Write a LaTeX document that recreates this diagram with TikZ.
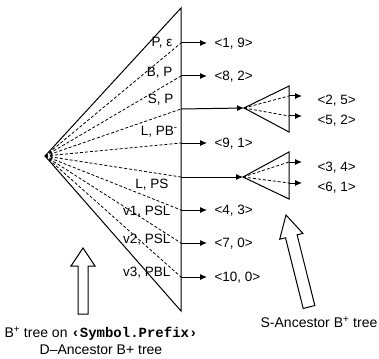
\documentclass[tikz,border=0pt]{standalone}
\usepackage{fontspec}
\setmainfont{Liberation Sans}
\setmonofont{Liberation Mono}
\usetikzlibrary{arrows.meta}
\tikzset{
  key/.style={anchor=east, inner sep=1pt},
  val/.style={anchor=west, inner sep=1pt},
  ptr/.style={-{Latex[length=7pt,width=6pt]}},
  edge/.style={dash pattern=on 3pt off 2pt, line width=0.8pt},
}
\begin{document}
\begin{tikzpicture}[x=1pt,y=-1pt,line width=1pt,font=\fontsize{13.5}{15}\selectfont]
  \useasboundingbox (0,0) rectangle (379,358);

  % D-Ancestor tree
  \coordinate (root) at (45,156);
  \coordinate (top) at (181,8);
  \coordinate (bot) at (181,311);
  \draw (root) -- (top) -- (bot) -- cycle;
  \draw (root) ++(-40:7) arc[start angle=-40,end angle=40,radius=7];

  \foreach \y [count=\i] in {43,76,109,143,177,210,243,277}
    \coordinate (r\i) at (181,\y);
  \foreach \i in {1,...,8}
    \draw[edge] (root) -- (r\i);

  \node[key] (k1) at (174,43) {P, ε};
  \node[key] (k2) at (174,73) {B, P};
  \node[key] (k3) at (175,100) {S, P};
  \node[key] (k4) at (179,132) {L, PB\textsuperscript{-}};
  \node[key] (k5) at (170,185) {L, PS};
  \node[key] (k6) at (172,212) {v1, PSL};
  \node[key] (k7) at (172,240) {v2, PSL};
  \node[key] (k8) at (172,273) {v3, PBL};

  \node[val] (v1) at (213,44) {<1, 9>};
  \node[val] (v2) at (213,77) {<8, 2>};
  \node[val] (v4) at (213,144) {<9, 1>};
  \node[val] (v6) at (213,211) {<4, 3>};
  \node[val] (v7) at (213,244) {<7, 0>};
  \node[val] (v8) at (213,278) {<10, 0>};
  \foreach \i in {1,2,4,6,7,8}
    \draw[ptr,shorten >=6pt] (r\i) -- (r\i -| v\i.west);

  % S-Ancestor trees
  \coordinate (s1) at (244,108);
  \coordinate (s1t) at (289,86);
  \coordinate (s1b) at (289,132);
  \draw (s1) -- (s1t) -- (s1b) -- cycle;
  \draw[ptr] (r3) -- (s1);
  \coordinate (s1a) at (289,96);
  \coordinate (s1c) at (289,116);
  \draw[edge] (s1) -- (s1a);
  \draw[edge] (s1) -- (s1c);
  \node[val] (w1) at (316,101) {<2, 5>};
  \node[val] (w2) at (316,121) {<5, 2>};
  \draw[ptr,shorten >=14pt] (s1a) -- (s1a -| w1.west);
  \draw[ptr,shorten >=14pt] (s1c) -- (s1c -| w2.west);

  \coordinate (s2) at (243,177);
  \coordinate (s2t) at (289,152);
  \coordinate (s2b) at (289,199);
  \draw (s2) -- (s2t) -- (s2b) -- cycle;
  \draw[ptr] (r5) -- (s2);
  \coordinate (s2a) at (289,162);
  \coordinate (s2c) at (289,183);
  \draw[edge] (s2) -- (s2a);
  \draw[edge] (s2) -- (s2c);
  \node[val] (w3) at (316,168) {<3, 4>};
  \node[val] (w4) at (316,188) {<6, 1>};
  \draw[ptr,shorten >=14pt] (s2a) -- (s2a -| w3.west);
  \draw[ptr,shorten >=14pt] (s2c) -- (s2c -| w4.west);

  % block arrows
  \draw[fill=white] (83,248) -- (95,266) -- (88,266) -- (88,314) -- (78,314)
    -- (78,266) -- (71,266) -- cycle;
  \draw[fill=white] (286,215) -- (302.9,233.4) -- (297.1,234.8) -- (314.8,305.5)
    -- (303.2,308.5) -- (285.5,237.8) -- (279.7,239.2) -- cycle;

  \node[align=center,font=\fontsize{14}{17}\selectfont] (dlab) at (101,341)
    {B\textsuperscript{+} tree on {\ttfamily\bfseries ‹Symbol.Prefix›}\\D–Ancestor B+ tree};
  \node[font=\fontsize{14}{16}\selectfont] (slab) at (319,322) {S-Ancestor B\textsuperscript{+} tree};
\end{tikzpicture}
\end{document}
